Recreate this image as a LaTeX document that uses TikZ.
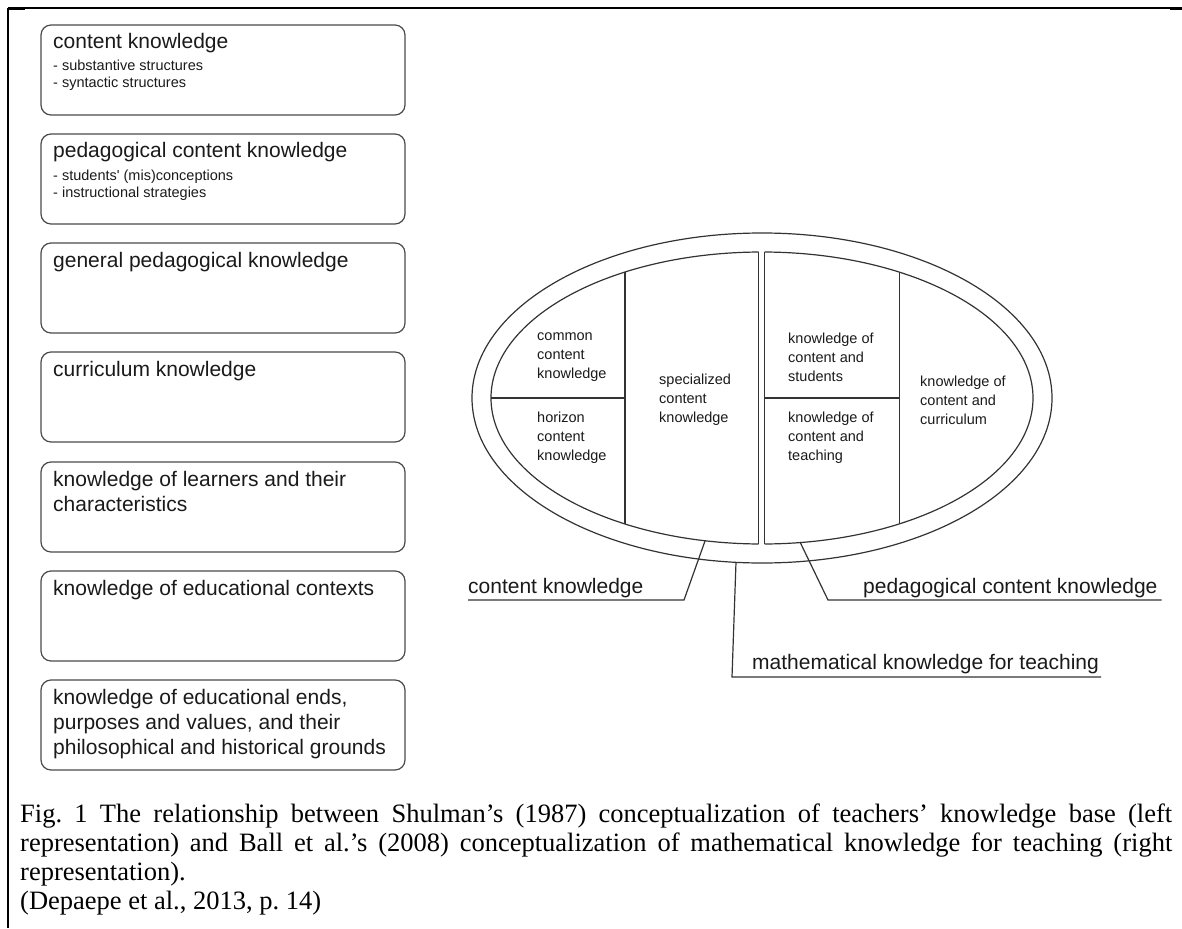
\documentclass[tikz,border=0pt]{standalone}
\usepackage{fontspec}
\setmainfont{Liberation Serif}
\setsansfont{Liberation Sans}
\usetikzlibrary{shapes.geometric}
\definecolor{ln}{HTML}{333333}
\definecolor{bx}{HTML}{4A4A4A}
\definecolor{tx}{HTML}{1A1A1A}
\frenchspacing
\begin{document}
\begin{tikzpicture}[x=1pt,y=-1pt,
  kbox/.style={draw=bx,line width=1.2pt,rounded corners=10pt,minimum width=364pt,minimum height=90pt,inner sep=0pt,outer sep=0pt,anchor=north west},
  ktitle/.style={font=\sffamily\fontsize{21}{25}\selectfont,text=tx,align=left,anchor=base west,inner sep=0pt},
  ksub/.style={font=\sffamily\fontsize{14.5}{17}\selectfont,text=tx,align=left,anchor=base west,inner sep=0pt},
  etext/.style={font=\sffamily\fontsize{14.5}{19}\selectfont,text=tx,align=left,anchor=west,inner sep=0pt},
  elab/.style={font=\sffamily\fontsize{21}{25}\selectfont,text=tx,anchor=base west,inner sep=0pt},
  eline/.style={draw=ln,line width=1.2pt},
  conn/.style={draw=ln,line width=1.2pt},
  captext/.style={font=\fontsize{26.5}{29}\selectfont,text=black,anchor=base west,inner sep=0pt}
]
\useasboundingbox (0,0) rectangle (1182,928);
% frame
\draw[line width=1.3pt] (8,8) -- (1182,8);
\draw[line width=2.4pt] (8,9) -- (25,9);
\draw[line width=2.4pt] (1170,9) -- (1182,9);
\draw[line width=2pt] (8,8) -- (8,928);

% left boxes
\node[kbox] (b1) at (41,25) {};
\node[kbox] (b2) at (41,134) {};
\node[kbox] (b3) at (41,243) {};
\node[kbox] (b4) at (41,352) {};
\node[kbox] (b5) at (41,462) {};
\node[kbox] (b6) at (41,571) {};
\node[kbox] (b7) at (41,680) {};

% (multi-line nodes: base anchor = baseline of the last line)
\node[ktitle] (t1) at (53,49) {content knowledge};
\node[ksub] (s1) at (53,88) {- substantive structures\\- syntactic structures};
\node[ktitle] (t2) at (53,158) {pedagogical content knowledge};
\node[ksub] (s2) at (53,197) {- students\textquotesingle{} (mis)conceptions\\- instructional strategies};
\node[ktitle] (t3) at (53,267) {general pedagogical knowledge};
\node[ktitle] (t4) at (53,376) {curriculum knowledge};
\node[ktitle] (t5) at (53,511) {knowledge of learners and their\\characteristics};
\node[ktitle] (t6) at (53,595) {knowledge of educational contexts};
\node[ktitle] (t7) at (53,754) {knowledge of educational ends,\\purposes and values, and their\\philosophical and historical grounds};

% ellipse
\node[draw=ln,line width=1.2pt,ellipse,minimum width=580pt,minimum height=330pt,inner sep=0pt,outer sep=0pt] (outer) at (762,398) {};
\begin{scope}
\clip (400,200) rectangle (758.5,600);
\draw[eline] (762,398) ellipse [x radius=271pt, y radius=146pt];
\end{scope}
\begin{scope}
\clip (764.5,200) rectangle (1100,600);
\draw[eline] (762,398) ellipse [x radius=271pt, y radius=146pt];
\end{scope}
\draw[eline] (758.5,252) -- (758.5,544);
\draw[eline] (764.5,252) -- (764.5,544);
\draw[eline] (625,272) -- (625,524);
\draw[eline] (899.5,272) -- (899.5,524);
\draw[eline] (491,398) -- (625,398);
\draw[eline] (764.5,398) -- (899.5,398);

\node[etext] (cck) at (537,357) {common\\content\\knowledge};
\node[etext] (hck) at (537,438) {horizon\\content\\knowledge};
\node[etext] (sck) at (659,400) {specialized\\content\\knowledge};
\node[etext] (kcs) at (788,357) {knowledge of\\content and\\students};
\node[etext] (kct) at (788,438) {knowledge of\\content and\\teaching};
\node[etext] (kcc) at (920,400) {knowledge of\\content and\\curriculum};

% labels and connectors
\node[elab] (lck) at (468,593) {content knowledge};
\coordinate (ckB) at (684,600);
\coordinate (ckE) at (705,541);
\draw[conn] (lck.south west |- ckB) -- (ckB) -- (ckE);

\node[elab] (lpck) at (863,593) {pedagogical content knowledge};
\coordinate (pckB) at (828,600);
\coordinate (pckE) at (800,542);
\draw[conn] ([xshift=4pt]lpck.south east |- pckB) -- (pckB) -- (pckE);

\node[elab] (lmkt) at (752,669) {mathematical knowledge for teaching};
\coordinate (mB) at (732,677);
\draw[conn] (outer.261.4) -- (mB) -- ([xshift=2pt]lmkt.south east |- mB);

% caption
\node[captext] (c1) at (20,822) {\makebox[1152pt][s]{Fig. 1 The relationship between Shulman’s (1987) conceptualization of teachers’ knowledge base (left}};
\node[captext] (c2) at (20,851) {\makebox[1152pt][s]{representation) and Ball et al.’s (2008) conceptualization of mathematical knowledge for teaching (right}};
\node[captext] (c3) at (20,880) {representation).};
\node[captext] (c4) at (20,909) {(Depaepe et al., 2013, p. 14)};
\end{tikzpicture}
\end{document}
